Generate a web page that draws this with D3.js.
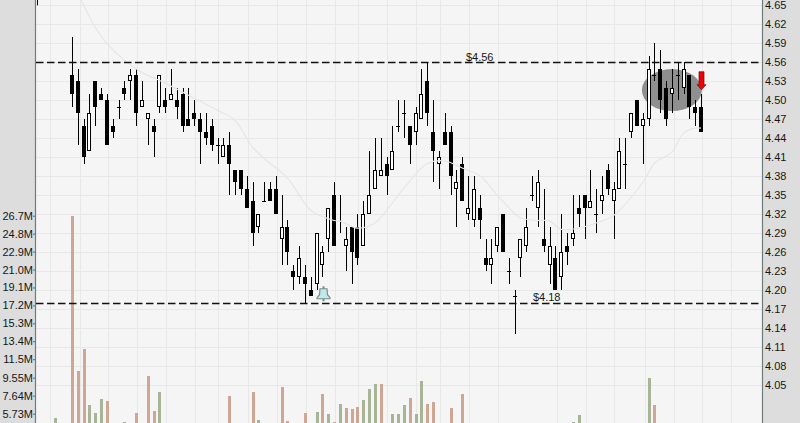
<!DOCTYPE html>
<html lang="en">
<head>
    <meta charset="UTF-8">
    <title>Candlestick</title>
    <script src="https://d3js.org/d3.v7.min.js"></script>
    <style>
        html, body {margin: 0; padding: 0; background: #f5f5f5; overflow: hidden}
        svg {display: block}
        text {font-family: 'Liberation Sans', Arial, sans-serif; font-size: 11px; fill: #161616}
    </style>
</head>
<body>
<script>
    const width  = 800;
    const height = 423;

    // price data, in dollars, one entry per session
    const highs = [4.60,4.55,4.47,4.51,4.53,4.52,4.51,4.47,4.50,4.53,4.55,4.55,4.53,4.48,4.47,4.54,4.52,4.55,4.52,4.52,4.52,4.50,4.48,4.48,4.47,4.44,4.44,4.45,4.39,4.39,4.38,4.37,4.32,4.37,4.37,4.38,4.35,4.31,4.24,4.27,4.24,4.22,4.29,4.27,4.33,4.37,4.35,4.30,4.30,4.32,4.34,4.42,4.44,4.44,4.41,4.46,4.50,4.50,4.46,4.49,4.55,4.56,4.50,4.42,4.48,4.46,4.39,4.41,4.38,4.38,4.35,4.28,4.28,4.30,4.32,4.25,4.20,4.28,4.33,4.38,4.39,4.36,4.30,4.27,4.32,4.29,4.35,4.35,4.35,4.39,4.36,4.38,4.40,4.37,4.44,4.44,4.48,4.50,4.48,4.57,4.59,4.58,4.53,4.55,4.56,4.56,4.54,4.50,4.51];
    const opens = [4.54,4.53,4.46,4.42,4.53,4.51,4.50,4.46,4.49,4.52,4.53,4.54,4.49,4.47,4.46,4.49,4.50,4.50,4.50,4.51,4.47,4.48,4.47,4.45,4.46,4.43,4.41,4.43,4.39,4.39,4.36,4.34,4.30,4.34,4.36,4.36,4.28,4.30,4.23,4.22,4.22,4.20,4.21,4.24,4.28,4.35,null,4.27,4.30,4.30,4.27,4.32,4.36,4.38,4.40,4.39,4.46,4.48,4.46,4.45,4.47,4.53,4.45,4.40,4.45,4.45,4.36,4.40,4.32,4.31,4.33,4.25,4.24,4.27,4.32,4.23,4.19,4.25,4.27,4.35,4.33,4.28,4.24,4.25,4.22,4.27,4.28,4.33,4.35,4.33,4.32,4.34,4.39,4.34,4.36,4.40,4.45,4.50,4.46,4.47,4.54,4.55,4.52,4.51,4.54,4.52,4.54,4.49,4.49];
    const lows  = [4.49,4.43,4.40,4.42,4.46,4.50,4.43,4.44,4.47,4.50,4.50,4.46,4.49,4.43,4.41,4.48,4.48,4.50,4.47,4.45,4.46,4.46,4.40,4.43,4.42,4.40,4.41,4.35,4.35,4.35,4.33,4.27,4.29,4.34,4.34,4.32,4.24,4.24,4.20,4.21,4.18,4.19,4.20,4.22,4.26,4.27,4.29,4.23,4.21,4.24,4.27,4.32,4.36,4.38,4.35,4.39,4.45,4.44,4.40,4.43,4.47,4.46,4.37,4.36,4.43,4.35,4.30,4.34,4.31,4.30,4.28,4.23,4.21,4.26,4.26,4.21,4.13,4.22,4.26,4.34,4.30,4.26,4.21,4.20,4.20,4.24,4.27,4.30,4.28,4.33,4.29,4.32,4.35,4.28,4.36,4.36,4.44,4.46,4.40,4.46,4.53,4.48,4.46,4.48,4.50,4.51,4.47,4.46,4.45];
    const closes = [4.51,4.48,4.41,4.48,4.49,4.50,4.43,4.45,4.49,4.51,4.54,4.48,4.50,4.48,4.45,4.54,4.49,4.51,4.49,4.46,4.46,4.47,4.45,4.44,4.43,4.43,4.43,4.40,4.37,4.36,4.33,4.29,4.32,4.34,4.34,4.32,4.30,4.26,4.22,4.25,4.21,4.19,4.29,4.26,4.33,4.27,null,4.28,4.26,4.25,4.32,4.35,4.39,4.39,4.38,4.42,4.46,4.48,4.43,4.48,4.51,4.48,4.42,4.41,4.43,4.38,4.37,4.34,4.33,4.36,4.31,4.24,4.25,4.30,4.26,4.23,4.19,4.28,4.30,4.35,4.37,4.27,4.27,4.20,4.26,4.26,4.29,4.32,4.33,4.34,4.32,4.35,4.36,4.36,4.42,4.40,4.48,4.46,4.47,4.55,4.54,4.50,4.47,4.52,4.54,4.55,4.49,4.48,4.45];

    // one session off to the left, only its wick is in view
    const earlyWick = {index: -6, high: 4.68, low: 4.65};

    // moving average, read at these sessions
    const maIndex = [1,4,6,9,12,16,20,25,28,31,33,37,41,45,46,49,52,54,57,61,64,67,70,73,76,77,80,82,84,87,90,93,98,100,103,105,107,108];
    const maValue = [4.67,4.615,4.59,4.563,4.544,4.527,4.508,4.484,4.468,4.426,4.408,4.377,4.326,4.31,4.309,4.298,4.306,4.326,4.361,4.40,4.404,4.393,4.381,4.35,4.321,4.314,4.31,4.309,4.296,4.298,4.306,4.318,4.37,4.40,4.418,4.448,4.456,4.456];

    // volume bars that reach into the visible part, in millions
    const volIndex = [-3,0,1,2,3,4,5,6,9,11,13,14,15,27,31,32,36,37,40,42,43,44,45,46,47,48,49,50,51,52,53,55,56,57,58,59,60,61,62,65,67,86,87,99,100];
    const volValue = [5.25,26.7,10.2,12.6,6.6,5.77,7.3,7.05,4.8,5.77,9.7,6.0,8.0,7.6,8.0,5.1,8.6,5.0,5.77,5.9,7.8,5.7,4.8,6.8,6.3,6.2,6.4,7.2,8.3,8.85,8.85,5.7,5.7,6.6,7.4,5.7,9.2,6.8,6.95,6.3,7.8,4.8,5.55,9.5,6.7];
    const volUp    = [1,0,0,0,1,1,1,0,1,0,0,0,1,0,0,1,0,0,0,1,0,1,0,1,0,0,0,1,1,1,0,1,1,1,0,1,1,0,0,0,0,1,1,1,0];

    const priceTicks  = [4.65,4.62,4.59,4.56,4.53,4.50,4.47,4.44,4.41,4.38,4.35,4.32,4.29,4.26,4.23,4.20,4.17,4.14,4.11,4.08,4.05];
    const volumeTicks = [26.7,24.8,22.9,21.0,19.1,17.2,15.3,13.4,11.5,9.55,7.64,5.73];
    const volumeLabels = ["26.7M","24.8M","22.9M","21.0M","19.1M","17.2M","15.3M","13.4M","11.5M","9.55M","7.64M","5.73M"];
    const gridSessions = [-3.8,1.3,6.2,11.2,16.2,21.1,25.1,30.2,35.2,40.2,45.2,49.1,54.1,59.1,63.2,68.2,73.2,83.2,88.2,93.1,98.3,103.3,108.2,113.2];
    const levels = [4.56, 4.18];

    const plotLeft = 35, plotRight = 762;

    const candles = highs.map((h, i) => ({index: i, high: h, low: lows[i], open: opens[i], close: closes[i]}));

    const x = d3.scaleLinear().domain([0, 108]).range([72, 701]);
    const y = d3.scaleLinear().domain([4.05, 4.65]).range([385, 5.3]);
    const yVol = d3.scaleLinear().domain([5.73, 26.7]).range([413.7, 215.7]);
    const px = v => Math.round(v);

    const svg = d3.select("body").append("svg")
            .attr("width", width)
            .attr("height", height);

    // background and side bands
    svg.append("rect").attr("width", width).attr("height", height).attr("fill", "#f5f5f5");

    const grid = svg.append("g").attr("stroke", "#e8e8e8").attr("stroke-width", 1);
    grid.selectAll("line.h")
            .data(priceTicks)
            .enter().append("line")
            .attr("x1", plotLeft).attr("x2", plotRight)
            .attr("y1", d => px(y(d)) + .5).attr("y2", d => px(y(d)) + .5);
    grid.selectAll("line.v")
            .data(gridSessions)
            .enter().append("line")
            .attr("x1", d => px(x(d)) + .5).attr("x2", d => px(x(d)) + .5)
            .attr("y1", 0).attr("y2", height);

    // highlighted zone at the top right
    svg.append("ellipse")
            .attr("cx", x(103)).attr("cy", y(4.516))
            .attr("rx", 30).attr("ry", 21)
            .attr("fill", "#8f8f8f");

    // volume
    svg.append("g").selectAll("rect")
            .data(volIndex)
            .enter().append("rect")
            .attr("x", d => px(x(d)) - 1)
            .attr("width", 3)
            .attr("y", (d, i) => px(yVol(volValue[i])))
            .attr("height", (d, i) => height - px(yVol(volValue[i])))
            .attr("fill", (d, i) => volUp[i] ? "#a7b596" : "#cfa593");

    // candles
    const candle = svg.append("g").selectAll("g")
            .data(candles)
            .enter().append("g");

    candle.append("line")
            .attr("x1", d => px(x(d.index)) + .5).attr("x2", d => px(x(d.index)) + .5)
            .attr("y1", d => px(y(d.high))).attr("y2", d => px(y(d.low)))
            .attr("stroke", "#000");

    candle.filter(d => d.open !== null && d.open === d.close).append("line")
            .attr("x1", d => px(x(d.index)) - 2).attr("x2", d => px(x(d.index)) + 2)
            .attr("y1", d => px(y(d.open)) + .5).attr("y2", d => px(y(d.open)) + .5)
            .attr("stroke", "#000");

    candle.filter(d => d.open !== null && d.open > d.close).append("rect")
            .attr("x", d => px(x(d.index)) - 2)
            .attr("width", 4)
            .attr("y", d => px(y(d.open)))
            .attr("height", d => px(y(d.close)) - px(y(d.open)))
            .attr("fill", "#000");

    candle.filter(d => d.open !== null && d.open < d.close).append("rect")
            .attr("x", d => px(x(d.index)) - 1.5)
            .attr("width", 3)
            .attr("y", d => px(y(d.close)) + .5)
            .attr("height", d => px(y(d.open)) - px(y(d.close)) - 1)
            .attr("fill", "#fff")
            .attr("stroke", "#000");

    svg.append("line")
            .attr("x1", px(x(earlyWick.index)) + .5).attr("x2", px(x(earlyWick.index)) + .5)
            .attr("y1", y(earlyWick.high)).attr("y2", y(earlyWick.low))
            .attr("stroke", "#000");

    // moving average
    const maLine = d3.line()
            .x((d, i) => x(d))
            .y((d, i) => y(maValue[i]))
            .curve(d3.curveCatmullRom);

    svg.append("path")
            .attr("d", maLine(maIndex))
            .attr("fill", "none")
            .attr("stroke", "#e6e6e6")
            .attr("stroke-width", 1.2);

    // support and resistance
    svg.append("g").selectAll("line")
            .data(levels)
            .enter().append("line")
            .attr("x1", plotLeft + 1).attr("x2", plotRight)
            .attr("y1", d => px(y(d)) + .5).attr("y2", d => px(y(d)) + .5)
            .attr("stroke", "#111")
            .attr("stroke-width", 1.6)
            .attr("stroke-dasharray", "7.5,3.5");

    svg.append("text").attr("x", x(70)).attr("y", y(4.56) - 1.5).attr("text-anchor", "middle").text("$4.56");
    svg.append("text").attr("x", x(81.5)).attr("y", y(4.18) - 2).attr("text-anchor", "middle").text("$4.18");

    // bell alert
    const bell = svg.append("g")
            .attr("transform", "translate(" + [px(x(43)) + 1.5, y(4.18) - 9] + ")")
            .attr("fill", "#bdeaec")
            .attr("stroke", "#7f8c8c")
            .attr("stroke-width", 1.2);
    bell.append("path").attr("d", "M-3.5,-5H3.5L4,1L6.5,4V5H-6.5V4L-4,1Z");
    bell.append("path").attr("d", "M0,-7.5V-5M0,5V7.5").attr("stroke-width", 2);

    // sell arrow
    svg.append("path")
            .attr("transform", "translate(" + [px(x(108)) + .5, y(4.545)] + ")")
            .attr("d", "M-2.5,0h5v13h2l-4.5,5l-4.5,-5h2z")
            .attr("fill", "#f00000")
            .attr("stroke", "#6b1010")
            .attr("stroke-width", .7);

    // side bands go on top of everything
    svg.append("rect").attr("width", plotLeft).attr("height", height).attr("fill", "#dddddd");
    svg.append("rect").attr("x", plotRight + 1).attr("width", width - plotRight - 1).attr("height", height).attr("fill", "#dddddd");
    [plotLeft + .5, plotRight + .5].forEach(v => {
        svg.append("line").attr("x1", v).attr("x2", v).attr("y1", 0).attr("y2", height)
                .attr("stroke", "#707c7c").attr("stroke-width", 1.2);
    });

    const priceAxis = d3.axisRight(y)
            .tickValues(priceTicks)
            .tickSize(0)
            .tickPadding(3)
            .tickFormat(d3.format(".2f"));

    const volumeAxis = d3.axisLeft(yVol)
            .tickValues(volumeTicks)
            .tickSize(2)
            .tickPadding(0)
            .tickFormat((d, i) => volumeLabels[i]);

    svg.append("g")
            .attr("transform", "translate(" + plotRight + ",0)")
            .call(priceAxis)
            .call(g => g.select(".domain").remove());

    svg.append("g")
            .attr("transform", "translate(" + plotLeft + ",0)")
            .call(volumeAxis)
            .call(g => g.select(".domain").remove())
            .call(g => g.selectAll("line").attr("stroke", "#666"));
</script>
</body>
</html>
